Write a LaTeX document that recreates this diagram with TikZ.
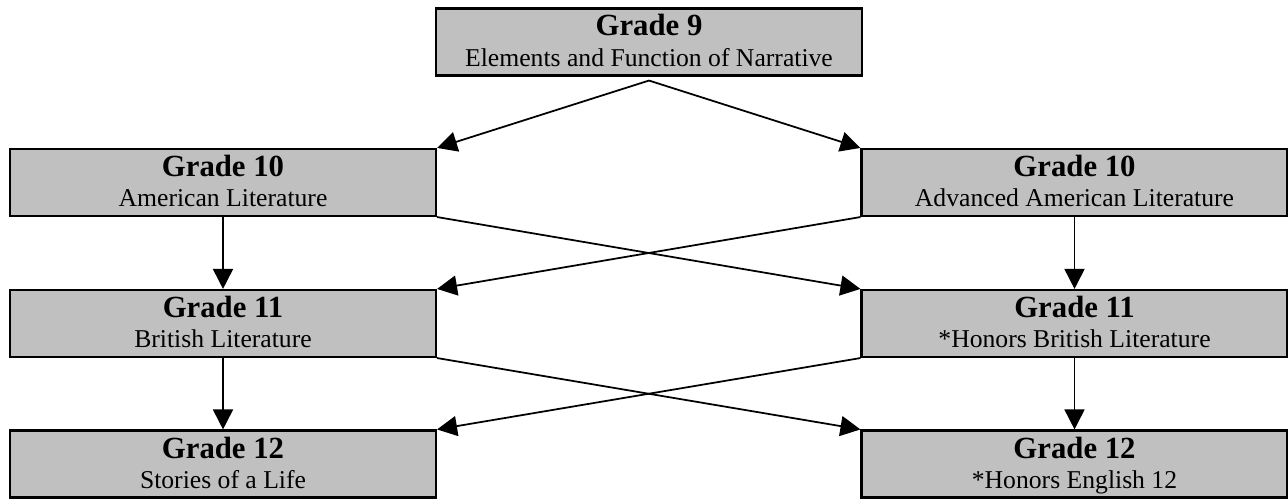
\documentclass[tikz,border=0pt]{standalone}
\usepackage{fontspec}
\setmainfont{Liberation Serif}
\usetikzlibrary{positioning,calc,arrows.meta}
\definecolor{boxgray}{HTML}{C0C0C0}
\tikzset{
  course/.style     = {rectangle,draw,fill=boxgray,line width=1.2pt,
                       minimum width=8.52cm,minimum height=1.34cm,inner sep=0pt},
  gradelabel/.style = {inner sep=0pt, anchor=base, font=\fontsize{17.5}{20}\selectfont\bfseries},
  namelabel/.style  = {inner sep=0pt, anchor=base, font=\fontsize{14.6}{17}\selectfont},
  link/.style       = {line width=1pt},
  >={Triangle[length=4mm,width=4mm]}
}
\newcommand{\DrawGrade}[4]{%
  % draws the box (course)
  \node[course] (#1) at #2 {};
  % displays grade label (upper line)
  \node[gradelabel] at ($(#1.center)+(0,0.12)$) {#3};
  % displays course name (lower line)
  \node[namelabel]  at ($(#1.center)+(0,-0.49)$) {#4};
}

\begin{document}
\begin{tikzpicture}
    \useasboundingbox (0,0) rectangle (25.76,9.96);

    \DrawGrade{g9}{(12.98,9.12)}
    {Grade 9}
    {Elements and Function of Narrative}

    \DrawGrade{g10a}{(4.46,6.31)}
    {Grade 10}
    {American Literature}

    \DrawGrade{g10b}{(21.49,6.31)}
    {Grade 10}
    {Advanced American Literature}

    \DrawGrade{g11a}{(4.46,3.49)}
    {Grade 11}
    {British Literature}

    \DrawGrade{g11b}{(21.49,3.49)}
    {Grade 11}
    {*Honors British Literature}

    \DrawGrade{g12a}{(4.46,0.68)}
    {Grade 12}
    {Stories of a Life}

    \DrawGrade{g12b}{(21.49,0.68)}
    {Grade 12}
    {*Honors English 12}

    % split point just under grade 9
    \coordinate (split) at ($(g9.south)+(0,-0.08)$);
    \draw[link,->] (split) -- (g10a.north east);
    \draw[link,->] (split) -- (g10b.north west);

    % straight and crossing paths
    \draw[link,->] (g10a) -- (g11a);
    \draw[link,->] (g10b) -- (g11b);
    \draw[link,->] (g10a.south east) -- (g11b.north west);
    \draw[link,->] (g10b.south west) -- (g11a.north east);

    \draw[link,->] (g11a) -- (g12a);
    \draw[link,->] (g11b) -- (g12b);
    \draw[link,->] (g11a.south east) -- (g12b.north west);
    \draw[link,->] (g11b.south west) -- (g12a.north east);
  \end{tikzpicture}
\end{document}
